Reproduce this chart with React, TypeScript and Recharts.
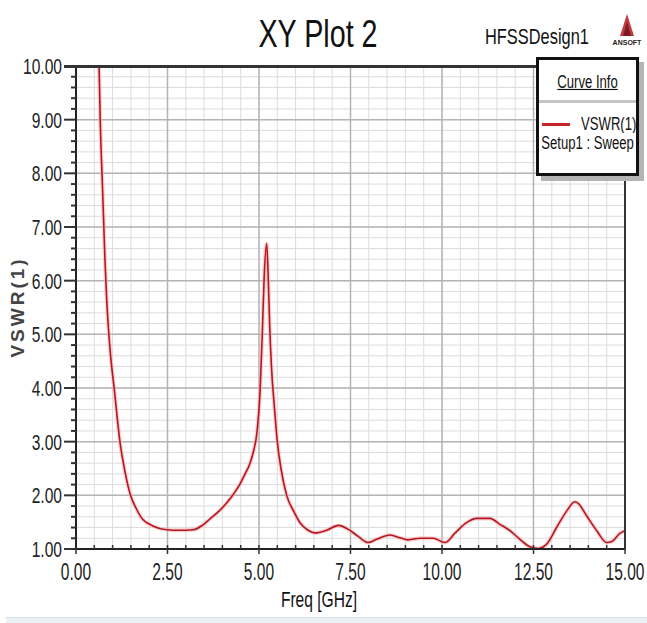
import React from "react";
import { LineChart, Line, XAxis, YAxis, CartesianGrid } from "recharts";

// Freq [GHz] and VSWR(1)
const freq = [
  0.6, 0.63, 0.66, 0.73, 0.79, 0.84, 0.93, 1.05, 1.2, 1.35, 1.49, 1.65, 1.79,
  2.1, 2.48, 2.8, 3.21, 3.45, 3.66, 3.9, 4.12, 4.3, 4.48, 4.62, 4.75, 4.86,
  4.94, 5.03, 5.09, 5.14, 5.21, 5.25, 5.29, 5.34, 5.42, 5.5, 5.6, 5.76, 5.95,
  6.12, 6.34, 6.53, 6.85, 7.17, 7.43, 7.7, 7.98, 8.21, 8.58, 8.85, 9.07, 9.4,
  9.76, 10.08, 10.36, 10.67, 10.95, 11.31, 11.58, 11.86, 12.13, 12.4, 12.63,
  12.86, 13.13, 13.41, 13.63, 13.72, 13.95, 14.23, 14.5, 14.64, 14.86, 15.0,
];
const vswr = [
  10.6, 10.0, 9.05, 7.63, 6.41, 5.63, 4.72, 3.95, 3.0, 2.4, 2.0, 1.75, 1.58,
  1.43, 1.36, 1.35, 1.36, 1.44, 1.56, 1.7, 1.86, 2.02, 2.21, 2.4, 2.59, 2.85,
  3.15, 3.95, 5.0, 6.04, 6.69, 6.1, 5.2, 4.4, 3.65, 3.0, 2.5, 1.99, 1.7, 1.49,
  1.35, 1.3, 1.35, 1.44, 1.37, 1.24, 1.12, 1.18, 1.26, 1.21, 1.17, 1.2, 1.2,
  1.12, 1.3, 1.49, 1.57, 1.57, 1.46, 1.34, 1.18, 1.04, 1.01, 1.09, 1.4, 1.71,
  1.88, 1.85, 1.62, 1.34, 1.12, 1.14, 1.29, 1.34,
];

const xMajor = [0, 2.5, 5, 7.5, 10, 12.5, 15];
const yMajor = [1, 2, 3, 4, 5, 6, 7, 8, 9, 10];
const xMinor = Array.from({ length: 31 }, (_, i) => i * 0.5);
const yMinor = Array.from({ length: 46 }, (_, i) => +(1 + i * 0.2).toFixed(1));

const data = freq.map((f, i) => ({ freq: f, vswr: vswr[i] }));

// no Arial Narrow here, so squeeze Liberation Sans sideways
const SANS = "'Liberation Sans', Arial, sans-serif";

const isMajorX = (v: number) => xMajor.some((m) => Math.abs(m - v) < 1e-6);
const isMajorY = (v: number) => yMajor.some((m) => Math.abs(m - v) < 1e-6);

function YTick(props: any) {
  const { x, y, payload } = props;
  const major = isMajorY(payload.value);
  return (
    <g>
      <line x1={x - (major ? 12 : 5)} x2={x} y1={y} y2={y} stroke="#333" strokeWidth={2} />
      {major && (
        <text
          transform={`translate(${x - 14},${y}) scale(0.82,1.15)`}
          textAnchor="end"
          dy="0.36em"
          fontFamily={SANS}
          fontSize={19}
          fill="#222"
        >
          {payload.value.toFixed(2)}
        </text>
      )}
    </g>
  );
}

function XTick(props: any) {
  const { x, y, payload } = props;
  const major = isMajorX(payload.value);
  return (
    <g>
      <line x1={x} x2={x} y1={y - 4} y2={y + (major ? 5 : 0)} stroke="#333" strokeWidth={1.5} />
      {major && (
        <text
          transform={`translate(${x},${y + 22}) scale(0.82,1.25)`}
          textAnchor="middle"
          dy="0.36em"
          fontFamily={SANS}
          fontSize={19}
          fill="#222"
        >
          {payload.value.toFixed(2)}
        </text>
      )}
    </g>
  );
}

const abs = (s: React.CSSProperties): React.CSSProperties => ({ position: "absolute", ...s });

const narrowText = (s: React.CSSProperties, sy = 1.12): React.CSSProperties =>
  abs({
    fontFamily: SANS,
    color: "#111",
    whiteSpace: "nowrap",
    transform: `scale(0.82,${sy})`,
    ...s,
  });

export default function App() {
  return (
    <div style={abs({ left: 0, top: 0, width: 647, height: 623, background: "#fff", overflow: "hidden" })}>
      <LineChart width={647} height={623} data={data} margin={{ top: 66, right: 22, bottom: 44, left: 0 }}>
        <CartesianGrid
          stroke="#dcdcdc"
          strokeWidth={1}
          horizontalValues={yMinor}
          verticalValues={xMinor}
        />
        <CartesianGrid
          stroke="#b4b4b4"
          strokeWidth={1.5}
          horizontalValues={yMajor}
          verticalValues={xMajor}
        />
        <XAxis
          type="number"
          dataKey="freq"
          domain={[0, 15]}
          ticks={xMinor}
          interval={0}
          height={30}
          tickSize={0}
          tickMargin={0}
          tickLine={false}
          tick={<XTick />}
          axisLine={{ stroke: "#222", strokeWidth: 2 }}
        />
        <YAxis
          type="number"
          domain={[1, 10]}
          allowDataOverflow
          ticks={yMinor}
          interval={0}
          width={76}
          tickSize={0}
          tickMargin={0}
          tickLine={false}
          tick={<YTick />}
          axisLine={{ stroke: "#222", strokeWidth: 2 }}
        />
        <Line
          type="monotone"
          dataKey="vswr"
          stroke="#f2b3b6"
          strokeWidth={4}
          strokeOpacity={0.6}
          dot={false}
          isAnimationActive={false}
        />
        <Line
          type="monotone"
          dataKey="vswr"
          stroke="#b8161f"
          strokeWidth={1.6}
          dot={false}
          isAnimationActive={false}
        />
      </LineChart>

      {/* plot frame: top and right */}
      <div style={abs({ left: 64, top: 65, width: 562, height: 3, background: "#333" })} />
      <div style={abs({ left: 624, top: 66, width: 2, height: 484, background: "#333" })} />

      {/* title */}
      <div style={narrowText({ left: 218, top: 16, width: 200, textAlign: "center", fontSize: 35, lineHeight: "36px" })}>
        XY Plot 2
      </div>
      <div
        style={narrowText({
          left: 485, top: 25, fontSize: 20, lineHeight: "22px", transformOrigin: "0 50%",
        })}
      >
        HFSSDesign1
      </div>

      {/* logo */}
      <svg style={abs({ left: 608, top: 10, width: 38, height: 44 })} viewBox="0 0 38 44">
        <polygon points="19,4 12,26 26,26" fill="#c0393f" />
        <polygon points="19,12 15,26 23,26" fill="#7a1c22" />
        <text x={19} y={35} textAnchor="middle" fontFamily={SANS} fontWeight="bold" fontSize={7} fill="#222">
          ANSOFT
        </text>
      </svg>

      {/* legend */}
      <div
        style={abs({
          left: 536, top: 57, width: 97, height: 113, border: "3px solid #111",
          background: "#fff", boxShadow: "5px 5px 0 #b4b4b4",
        })}
      >
        <div
          style={narrowText(
            { left: -20, top: 13, width: 137, textAlign: "center", fontSize: 16, lineHeight: "18px", textDecoration: "underline" },
            1.15
          )}
        >
          Curve Info
        </div>
        <div style={abs({ left: 0, top: 40, width: 97, height: 3, background: "#c4c4c4" })} />
        <div style={abs({ left: 3, top: 63, width: 28, height: 3, background: "#c8232b" })} />
        <div
          style={narrowText(
            { left: 42, top: 56, fontSize: 16, lineHeight: "15px", transformOrigin: "0 50%" },
            1.1
          )}
        >
          VSWR(1)
        </div>
        <div
          style={narrowText(
            { left: -20, top: 75, width: 137, textAlign: "center", fontSize: 16, lineHeight: "15px" },
            1.1
          )}
        >
          Setup1 : Sweep
        </div>
      </div>

      {/* axis titles */}
      <div
        style={abs({
          left: 18, top: 307, transform: "translate(-50%,-50%) rotate(-90deg)",
          fontFamily: SANS, fontWeight: "bold",
          fontSize: 19, letterSpacing: 3, color: "#444", whiteSpace: "nowrap",
        })}
      >
        VSWR(1)
      </div>
      <div style={narrowText({ left: 219, top: 589, width: 200, textAlign: "center", fontSize: 19, lineHeight: "22px" }, 1.15)}>
        Freq [GHz]
      </div>

      {/* light strip at the bottom */}
      <div style={abs({ left: 6, top: 617, width: 641, height: 1, background: "#d6e0e8" })} />
      <div style={abs({ left: 6, top: 618, width: 641, height: 5, background: "#ebf1f6" })} />
    </div>
  );
}
